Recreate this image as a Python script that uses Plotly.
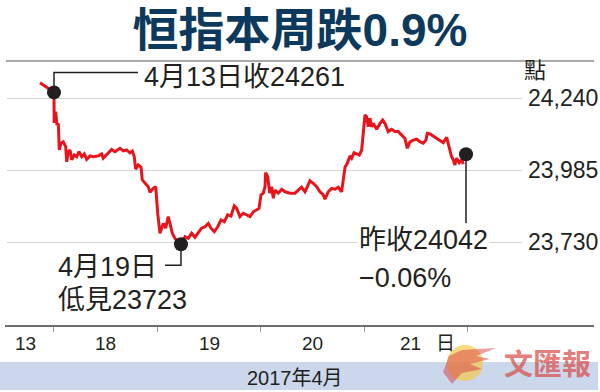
import plotly.graph_objects as go

# ---------------- data ----------------
# x: trading-session position (0 = 13 Apr close / 18 Apr open, +1 per session)
day_pos = [
    -0.135, 0.0, 0.002, 0.016, 0.029, 0.042, 0.051, 0.068, 0.090, 0.113,
    0.123, 0.138, 0.155, 0.171, 0.196, 0.219, 0.242, 0.268, 0.293, 0.316,
    0.348, 0.380, 0.428, 0.461, 0.476, 0.509, 0.557, 0.589, 0.638, 0.670,
    0.702, 0.734, 0.757, 0.776, 0.789, 0.814, 0.841, 0.853, 0.879, 0.911,
    0.928, 0.959, 0.983, 1.002, 1.024, 1.056, 1.079, 1.104, 1.121, 1.143,
    1.169, 1.195, 1.227,
    1.266, 1.298, 1.330, 1.362, 1.394, 1.426, 1.459, 1.491, 1.517, 1.549,
    1.582, 1.614, 1.646, 1.678, 1.710, 1.742, 1.765, 1.797, 1.829, 1.862,
    1.894, 1.926, 1.958, 1.981, 2.000, 2.022, 2.039, 2.045, 2.065, 2.084,
    2.103, 2.119, 2.135, 2.167, 2.200, 2.232, 2.280, 2.329, 2.360, 2.393,
    2.425, 2.473, 2.505, 2.538, 2.570, 2.602,
    2.618, 2.650, 2.683, 2.715, 2.747, 2.779, 2.795, 2.812, 2.834, 2.860,
    2.876, 2.899, 2.925, 2.950, 2.973, 2.988, 3.005, 3.021, 3.037, 3.053,
    3.070, 3.085, 3.118, 3.150, 3.176, 3.198, 3.230, 3.263, 3.295, 3.327,
    3.359, 3.391, 3.414, 3.440, 3.472, 3.504, 3.536, 3.568, 3.594, 3.607,
    3.633, 3.665, 3.698, 3.729, 3.761, 3.794, 3.810, 3.826, 3.842, 3.858,
    3.874, 3.891, 3.916, 3.939, 3.955,
]
hsi = [
    24295, 24261, 24153, 24193, 24145, 24151, 24057, 24081, 24086, 24069,
    24015, 24051, 24057, 24022, 24039, 24033, 24051, 24033, 24043, 24024,
    24036, 24033, 24036, 24043, 24028, 24040, 24059, 24051, 24063, 24054,
    24057, 24047, 24053, 24033, 23989, 24004, 23996, 23951, 23939, 23927,
    23907, 23921, 23927, 23833, 23762, 23797, 23780, 23821, 23797, 23762,
    23744, 23732, 23723,
    23750, 23744, 23762, 23748, 23762, 23780, 23785, 23797, 23780, 23768,
    23785, 23809, 23803, 23827, 23823, 23859, 23850, 23821, 23833, 23827,
    23821, 23838, 23844, 23850, 23898, 23904, 23927, 23977, 23962, 23904,
    23927, 23886, 23915, 23904, 23918, 23909, 23904, 23904, 23915, 23925,
    23909, 23948, 23939, 23927, 23909, 23898,
    23883, 23909, 23921, 23918, 23925, 23909, 23951, 23996, 24010, 24036,
    24028, 24047, 24043, 24039, 24057, 24116, 24181, 24175, 24139, 24169,
    24139, 24151, 24130, 24151, 24163, 24151, 24122, 24130, 24122, 24122,
    24110, 24098, 24063, 24086, 24092, 24095, 24086, 24081, 24092, 24116,
    24114, 24107, 24098, 24092, 24083, 24102, 24075, 24057, 24033, 24022,
    24004, 24028, 24012, 24022, 24007,
]

# key points: 13 Apr close, 19 Apr low, last close
key_x = [0.0, 1.227, 3.981]
key_val = [24261, 23723, 24042]

y_ticks = [23730, 23985, 24240]
session_bounds = [0, 1, 2, 3, 4]
day_labels = ["13", "18", "19", "20", "21", "日"]
day_label_pos = [-0.28, 0.5, 1.5, 2.5, 3.44, 3.78]

title_text = "恒指本周跌0.9%"
month_text = "2017年4月"
unit_text = "點"

# ---------------- style ----------------
FONT = "Liberation Sans, Arial, Noto Sans CJK TC, sans-serif"
INK = "#231f20"
RED = "#e8141c"

W, H = 600, 392
ML, MR, MT, MB = 7, 78, 64, 66
PW, PH = W - ML - MR, H - MT - MB


def px_x(p):
    return (p - ML) / PW


def px_y(p):
    return (H - MB - p) / PH


fig = go.Figure()
fig.add_trace(go.Scatter(
    x=day_pos, y=hsi, mode="lines",
    line=dict(color=RED, width=3), hoverinfo="skip", showlegend=False,
))
fig.add_trace(go.Scatter(
    x=key_x, y=key_val, mode="markers",
    marker=dict(color=INK, size=14, line=dict(width=0)),
    hoverinfo="skip", showlegend=False,
))

shapes = []
# header rule
shapes.append(dict(type="line", xref="paper", yref="paper",
                   x0=px_x(6), x1=px_x(594), y0=px_y(61), y1=px_y(61),
                   line=dict(color="#8c8c8c", width=1.5)))
# bottom axis line
shapes.append(dict(type="line", xref="paper", yref="paper",
                   x0=px_x(5), x1=px_x(594), y0=0, y1=0,
                   line=dict(color="#3c3c3c", width=1.5)))
# month band
shapes.append(dict(type="rect", xref="paper", yref="paper",
                   x0=px_x(0), x1=px_x(598), y0=px_y(390), y1=px_y(362),
                   fillcolor="#cbd8ec", line=dict(width=0), layer="below"))
# watermark logo (decorative)
shapes.append(dict(type="circle", xref="paper", yref="paper",
                   x0=px_x(447), x1=px_x(483), y0=px_y(381), y1=px_y(345),
                   fillcolor="#f2c94c", opacity=0.7, line=dict(width=0)))
swoosh_px = [(443, 372), (449, 356), (462, 350), (496, 348), (476, 356),
             (490, 359), (470, 364), (482, 369), (462, 373), (452, 384)]
swoosh = "M" + " L".join(f"{px_x(a):.4f},{px_y(b):.4f}" for a, b in swoosh_px) + " Z"
shapes.append(dict(type="path", xref="paper", yref="paper", path=swoosh,
                   fillcolor="#dd4b4b", opacity=0.55, line=dict(width=0)))
# leader lines (pixel offsets from the key points)
leader_paths = ["M0,0 L0,20 L84,20", "M0,0 L0,-21 L-16,-21", "M0,0 L0,-69"]
for kx, kv, pth in zip(key_x, key_val, leader_paths):
    shapes.append(dict(type="path", xref="x", yref="y",
                       xsizemode="pixel", ysizemode="pixel",
                       xanchor=kx, yanchor=kv, path=pth,
                       line=dict(color=INK, width=1.5), layer="between"))

ann = []


def note(text, kx, kv, dx, dy, size=27, bg=None):
    d = dict(text=text, x=kx, y=kv, xref="x", yref="y", showarrow=False,
             xanchor="left", yanchor="middle", xshift=dx, yshift=dy,
             font=dict(family=FONT, size=size, color=INK))
    if bg:
        d["bgcolor"] = bg
    ann.append(d)


note("4月13日收24261", key_x[0], key_val[0], 88, 15)
note("4月19日", key_x[1], key_val[1], -125, -23)
note("低見23723", key_x[1], key_val[1], -125, -56)
note("昨收24042", key_x[2], key_val[2], -109, -86, bg="white")
note("−0.06%", key_x[2], key_val[2], -109, -124)

ann.append(dict(text=unit_text, x=px_x(535), y=px_y(70), xref="paper", yref="paper",
                showarrow=False, xanchor="center", yanchor="middle",
                font=dict(family=FONT, size=22, color=INK)))
for lab, pos in zip(day_labels, day_label_pos):
    ann.append(dict(text=lab, x=pos, y=px_y(343), xref="x", yref="paper",
                    showarrow=False, xanchor="center", yanchor="middle",
                    font=dict(family=FONT, size=19, color=INK)))
ann.append(dict(text=month_text, x=px_x(295), y=px_y(378), xref="paper", yref="paper",
                showarrow=False, xanchor="center", yanchor="middle",
                font=dict(family=FONT, size=20, color=INK)))
ann.append(dict(text="文匯報", x=px_x(547), y=px_y(362), xref="paper", yref="paper",
                showarrow=False, xanchor="center", yanchor="middle", opacity=0.75,
                font=dict(family="Noto Sans CJK TC, sans-serif", size=29,
                          color="#d9534f", weight="bold")))

fig.update_layout(
    width=W, height=H,
    margin=dict(l=ML, r=MR, t=MT, b=MB, pad=0, autoexpand=False),
    paper_bgcolor="white", plot_bgcolor="white",
    title=dict(text=title_text, x=0.5, xref="container", y=1 - 30 / H,
               yref="container", xanchor="center", yanchor="middle",
               font=dict(family="Liberation Sans, Arial, Noto Sans CJK TC, sans-serif",
                         size=46, color="#0d3a5c", weight="bold")),
    xaxis=dict(range=[-0.454, 4.522], tickvals=session_bounds, ticks="outside",
               ticklen=5, tickwidth=1, tickcolor="#9a9a9a", showticklabels=False,
               showgrid=False, zeroline=False, showline=False, fixedrange=True,
               automargin=False),
    yaxis=dict(range=[23433.6, 24361.5], side="right", tickvals=y_ticks,
               tickformat=",d", ticks="", ticklabelstandoff=5,
               showgrid=True, gridcolor="#d4d4d4", gridwidth=1,
               zeroline=False, showline=False, fixedrange=True, automargin=False,
               tickfont=dict(family=FONT, size=23, color=INK)),
    shapes=shapes, annotations=ann, showlegend=False,
)

fig.write_html("out.html", config={"displayModeBar": False, "staticPlot": True})
